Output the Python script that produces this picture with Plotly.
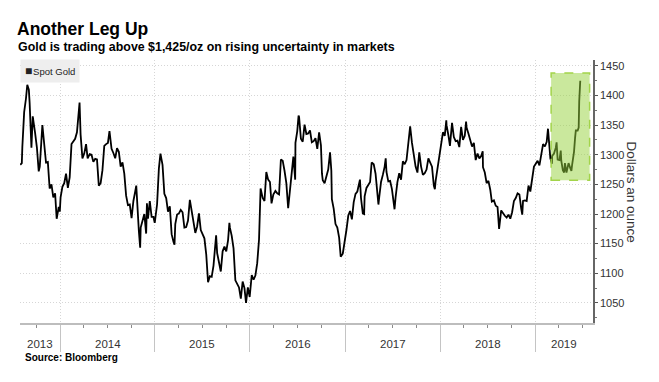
import plotly.graph_objects as go
import pandas as pd

# ---------------- text ----------------
title = "Another Leg Up"
subtitle = "Gold is trading above $1,425/oz on rising uncertainty in markets"
source = "Source: Bloomberg"
series_name = "Spot Gold"
y_title = "Dollars an ounce"
year_labels = ["2013", "2014", "2015", "2016", "2017", "2018", "2019"]
y_ticks = [1050, 1100, 1150, 1200, 1250, 1300, 1350, 1400, 1450]

# ---------------- data (spot gold, $/oz) ----------------
dates_2013 = ["2013-08-01", "2013-08-07", "2013-08-09", "2013-08-16", "2013-08-23", "2013-08-28",
              "2013-09-03", "2013-09-06", "2013-09-13", "2013-09-18", "2013-09-27", "2013-10-04",
              "2013-10-11", "2013-10-15", "2013-10-25", "2013-11-01", "2013-11-08", "2013-11-15",
              "2013-11-22", "2013-11-29", "2013-12-06", "2013-12-13", "2013-12-19", "2013-12-27",
              "2013-12-31"]
gold_2013 = [1283, 1286, 1313, 1372, 1395, 1418,
             1410, 1388, 1312, 1365, 1337, 1312,
             1272, 1280, 1350, 1314, 1287, 1288,
             1243, 1250, 1228, 1235, 1192, 1212,
             1204]

dates_2014 = ["2014-01-03", "2014-01-10", "2014-01-17", "2014-01-24", "2014-01-31", "2014-02-07",
              "2014-02-14", "2014-02-21", "2014-02-28", "2014-03-07", "2014-03-14", "2014-03-17",
              "2014-03-21", "2014-03-28", "2014-04-04", "2014-04-11", "2014-04-17", "2014-04-25",
              "2014-05-02", "2014-05-09", "2014-05-16", "2014-05-23", "2014-05-30", "2014-06-06",
              "2014-06-13", "2014-06-20", "2014-06-27", "2014-07-04", "2014-07-10", "2014-07-18",
              "2014-07-25", "2014-08-01", "2014-08-08", "2014-08-15", "2014-08-22", "2014-08-29",
              "2014-09-05", "2014-09-12", "2014-09-19", "2014-09-26", "2014-10-03", "2014-10-10",
              "2014-10-17", "2014-10-21", "2014-10-31", "2014-11-05", "2014-11-07", "2014-11-14",
              "2014-11-21", "2014-11-28", "2014-12-01", "2014-12-05", "2014-12-12", "2014-12-19",
              "2014-12-26", "2014-12-31"]
gold_2014 = [1228, 1246, 1252, 1268, 1244, 1262,
             1318, 1323, 1327, 1338, 1380, 1388,
             1334, 1294, 1302, 1318, 1294, 1301,
             1300, 1288, 1293, 1292, 1248, 1252,
             1274, 1315, 1318, 1320, 1340, 1310,
             1303, 1294, 1311, 1305, 1280, 1287,
             1268, 1231, 1215, 1216, 1193, 1222,
             1238, 1248, 1171, 1143, 1177, 1188,
             1200, 1167, 1218, 1192, 1222, 1195,
             1195, 1185]

dates_2015 = ["2015-01-09", "2015-01-16", "2015-01-22", "2015-01-30", "2015-02-06", "2015-02-13",
              "2015-02-20", "2015-02-27", "2015-03-06", "2015-03-13", "2015-03-17", "2015-03-20",
              "2015-03-27", "2015-04-03", "2015-04-10", "2015-04-17", "2015-04-24", "2015-05-01",
              "2015-05-08", "2015-05-15", "2015-05-22", "2015-05-29", "2015-06-05", "2015-06-12",
              "2015-06-19", "2015-06-26", "2015-07-02", "2015-07-10", "2015-07-17", "2015-07-20",
              "2015-07-24", "2015-07-31", "2015-08-07", "2015-08-14", "2015-08-21", "2015-08-24",
              "2015-08-28", "2015-09-04", "2015-09-11", "2015-09-18", "2015-09-25", "2015-10-02",
              "2015-10-09", "2015-10-14", "2015-10-16", "2015-10-23", "2015-10-30", "2015-11-06",
              "2015-11-13", "2015-11-20", "2015-11-27", "2015-12-04", "2015-12-11", "2015-12-17",
              "2015-12-24", "2015-12-31"]
gold_2015 = [1216, 1277, 1302, 1283, 1234, 1227,
             1204, 1213, 1166, 1153, 1148, 1183,
             1199, 1201, 1207, 1203, 1177, 1178,
             1189, 1224, 1205, 1190, 1168, 1179,
             1201, 1173, 1167, 1159, 1132, 1102,
             1085, 1095, 1094, 1113, 1160, 1164,
             1134, 1121, 1103, 1137, 1145, 1137,
             1156, 1185, 1177, 1163, 1142, 1088,
             1081, 1076, 1057, 1086, 1075, 1050,
             1076, 1060]

dates_2016 = ["2016-01-08", "2016-01-15", "2016-01-22", "2016-01-29", "2016-02-05", "2016-02-11",
              "2016-02-19", "2016-02-26", "2016-03-04", "2016-03-11", "2016-03-18", "2016-03-24",
              "2016-03-31", "2016-04-08", "2016-04-15", "2016-04-22", "2016-04-29", "2016-05-06",
              "2016-05-13", "2016-05-20", "2016-05-27", "2016-06-03", "2016-06-10", "2016-06-16",
              "2016-06-23", "2016-06-24", "2016-07-01", "2016-07-06", "2016-07-08", "2016-07-15",
              "2016-07-22", "2016-07-29", "2016-08-05", "2016-08-12", "2016-08-19", "2016-08-26",
              "2016-09-02", "2016-09-09", "2016-09-16", "2016-09-23", "2016-09-30", "2016-10-04",
              "2016-10-07", "2016-10-14", "2016-10-21", "2016-10-28", "2016-11-04", "2016-11-09",
              "2016-11-11", "2016-11-18", "2016-11-25", "2016-12-02", "2016-12-09", "2016-12-15",
              "2016-12-23", "2016-12-30"]
gold_2016 = [1097, 1089, 1096, 1117, 1157, 1243,
             1227, 1222, 1271, 1258, 1254, 1218,
             1233, 1239, 1235, 1233, 1292, 1290,
             1273, 1252, 1210, 1243, 1275, 1297,
             1258, 1320, 1340, 1366, 1364, 1327,
             1322, 1351, 1335, 1336, 1341, 1321,
             1323, 1328, 1310, 1338, 1316, 1268,
             1257, 1252, 1266, 1275, 1304, 1273,
             1225, 1209, 1183, 1177, 1160, 1128,
             1133, 1151]

dates_2017 = ["2017-01-06", "2017-01-13", "2017-01-20", "2017-01-27", "2017-02-03", "2017-02-10",
              "2017-02-17", "2017-02-27", "2017-03-03", "2017-03-10", "2017-03-15", "2017-03-17",
              "2017-03-24", "2017-03-31", "2017-04-07", "2017-04-13", "2017-04-21", "2017-04-28",
              "2017-05-05", "2017-05-09", "2017-05-12", "2017-05-19", "2017-05-26", "2017-06-02",
              "2017-06-06", "2017-06-09", "2017-06-16", "2017-06-23", "2017-06-30", "2017-07-07",
              "2017-07-10", "2017-07-14", "2017-07-21", "2017-07-28", "2017-08-04", "2017-08-11",
              "2017-08-18", "2017-08-25", "2017-09-01", "2017-09-08", "2017-09-15", "2017-09-22",
              "2017-09-29", "2017-10-06", "2017-10-13", "2017-10-20", "2017-10-27", "2017-11-03",
              "2017-11-10", "2017-11-17", "2017-11-24", "2017-12-01", "2017-12-08", "2017-12-12",
              "2017-12-15", "2017-12-22", "2017-12-29"]
gold_2017 = [1173, 1197, 1205, 1191, 1220, 1234,
             1238, 1258, 1227, 1201, 1200, 1230,
             1244, 1249, 1254, 1287, 1284, 1268,
             1228, 1216, 1228, 1254, 1266, 1280,
             1294, 1271, 1255, 1256, 1242, 1212,
             1208, 1228, 1254, 1269, 1258, 1289,
             1284, 1291, 1325, 1348, 1320, 1297,
             1280, 1270, 1304, 1280, 1266, 1269,
             1275, 1294, 1288, 1280, 1248, 1242,
             1256, 1276, 1303]

dates_2018 = ["2018-01-05", "2018-01-12", "2018-01-19", "2018-01-25", "2018-01-26", "2018-02-02",
              "2018-02-08", "2018-02-16", "2018-02-23", "2018-03-02", "2018-03-09", "2018-03-16",
              "2018-03-23", "2018-03-30", "2018-04-06", "2018-04-11", "2018-04-13", "2018-04-20",
              "2018-04-27", "2018-05-04", "2018-05-11", "2018-05-18", "2018-05-25", "2018-06-01",
              "2018-06-08", "2018-06-14", "2018-06-15", "2018-06-22", "2018-06-29", "2018-07-06",
              "2018-07-13", "2018-07-19", "2018-07-27", "2018-08-03", "2018-08-10", "2018-08-16",
              "2018-08-24", "2018-08-31", "2018-09-07", "2018-09-14", "2018-09-21", "2018-09-28",
              "2018-10-05", "2018-10-12", "2018-10-19", "2018-10-26", "2018-11-02", "2018-11-09",
              "2018-11-13", "2018-11-16", "2018-11-23", "2018-11-30", "2018-12-07", "2018-12-14",
              "2018-12-21", "2018-12-28"]
gold_2018 = [1320, 1338, 1332, 1358, 1350, 1333,
             1315, 1354, 1330, 1323, 1324, 1313,
             1347, 1325, 1332, 1356, 1346, 1336,
             1323, 1314, 1320, 1291, 1302, 1294,
             1298, 1306, 1279, 1270, 1252, 1256,
             1241, 1221, 1223, 1214, 1212, 1175,
             1206, 1201, 1197, 1194, 1199, 1192,
             1203, 1222, 1227, 1235, 1233, 1209,
             1199, 1222, 1223, 1222, 1248, 1238,
             1257, 1280]

dates_2019 = ["2019-01-04", "2019-01-11", "2019-01-18", "2019-01-25", "2019-02-01", "2019-02-08",
              "2019-02-15", "2019-02-20", "2019-02-22", "2019-03-01", "2019-03-07", "2019-03-08",
              "2019-03-15", "2019-03-22", "2019-03-25", "2019-03-29", "2019-04-05", "2019-04-10",
              "2019-04-12", "2019-04-18", "2019-04-23", "2019-04-26", "2019-05-02", "2019-05-10",
              "2019-05-17", "2019-05-21", "2019-05-24", "2019-05-31", "2019-06-04", "2019-06-07",
              "2019-06-14", "2019-06-18", "2019-06-20", "2019-06-21", "2019-06-24"]
gold_2019 = [1285, 1290, 1282, 1303, 1318, 1314,
             1322, 1344, 1328, 1294, 1285, 1298,
             1302, 1312, 1321, 1292, 1291, 1307,
             1290, 1274, 1270, 1286, 1270, 1286,
             1277, 1273, 1284, 1305, 1328, 1341,
             1341, 1346, 1390, 1400, 1425]

# highlighted period (annotation box)
highlight_start, highlight_end = "2019-03-04", "2019-07-30"
highlight_low, highlight_high = 1257, 1438

x_range = ["2013-07-31", "2019-08-12"]
y_range = [1016, 1460]

dates = pd.to_datetime(dates_2013 + dates_2014 + dates_2015 + dates_2016 +
                       dates_2017 + dates_2018 + dates_2019)
gold = gold_2013 + gold_2014 + gold_2015 + gold_2016 + gold_2017 + gold_2018 + gold_2019

FONT = "Liberation Sans, Arial, sans-serif"
GRID = "#d6d6d6"

fig = go.Figure()
fig.add_trace(go.Scatter(x=dates, y=gold, mode="lines", name=series_name,
                         line=dict(color="#000000", width=1.8), showlegend=False))

# the page body has an 8px default margin, so the figure is 8px smaller
fig.update_layout(
    width=651, height=374,
    margin=dict(l=12, r=66, t=52, b=59),
    paper_bgcolor="white", plot_bgcolor="white",
    font=dict(family=FONT, size=11, color="#333333"),
    showlegend=False,
)

fig.update_xaxes(
    type="date", range=x_range,
    showgrid=True, gridcolor=GRID, griddash="1px,2px", gridwidth=1,
    dtick="M12", tick0="2014-01-01",
    ticks="outside", ticklen=27, tickcolor="#c4c4c4", tickwidth=1,
    showticklabels=False,
    showline=True, linecolor="#bdbdbd", linewidth=2,
    minor=dict(dtick="M3", tick0="2014-01-01", ticks="outside", ticklen=3,
               tickcolor="#8a8a8a", showgrid=False),
    zeroline=False,
)

fig.update_yaxes(
    side="right", range=y_range,
    tickvals=y_ticks, ticktext=[str(v) for v in y_ticks],
    showgrid=True, gridcolor=GRID, griddash="1px,2px", gridwidth=1,
    ticks="outside", ticklen=3, tickcolor="#555555",
    showline=True, linecolor="#666666", linewidth=1.5,
    minor=dict(dtick=25, tick0=1000, ticks="outside", ticklen=2, tickcolor="#777777", showgrid=False),
    tickfont=dict(size=11, color="#333333", family=FONT),
    zeroline=False,
)

# highlight box drawn above the line
fig.add_shape(type="rect", xref="x", yref="y",
              x0=highlight_start, x1=highlight_end, y0=highlight_low, y1=highlight_high,
              fillcolor="rgba(150,210,60,0.5)",
              line=dict(color="#a3d44a", width=1.5, dash="dash"),
              layer="above")

# year labels centred in the visible part of each year
x0 = pd.Timestamp(x_range[0])
x1 = pd.Timestamp(x_range[1])
for lab in year_labels:
    a = max(pd.Timestamp(f"{lab}-01-01"), x0)
    b = min(pd.Timestamp(f"{int(lab) + 1}-01-01"), x1)
    mid = a + (b - a) / 2
    fig.add_annotation(x=mid, xref="x", y=-0.08, yref="paper", text=lab,
                       showarrow=False, xanchor="center", yanchor="middle",
                       font=dict(size=11.5, color="#333333", family=FONT))

# titles
fig.add_annotation(x=-0.008, y=1.119, xref="paper", yref="paper", xanchor="left", yanchor="middle",
                   text=f"<b>{title}</b>", showarrow=False,
                   font=dict(size=17.5, color="#000000", family=FONT))
fig.add_annotation(x=-0.007, y=1.0487, xref="paper", yref="paper", xanchor="left", yanchor="middle",
                   text=f"<b>{subtitle}</b>", showarrow=False,
                   font=dict(size=12.4, color="#000000", family=FONT))
fig.add_annotation(x=0.005, y=-0.133, xref="paper", yref="paper", xanchor="left", yanchor="middle",
                   text=f"<b>{source}</b>", showarrow=False,
                   font=dict(size=10, color="#000000", family=FONT))

# y-axis title (reads top to bottom)
fig.add_annotation(x=1.0665, y=0.5, xref="paper", yref="paper", xanchor="center", yanchor="middle",
                   text=y_title, textangle=90, showarrow=False,
                   font=dict(size=13.5, color="#333333", family=FONT))

# legend box
fig.add_annotation(x=0, y=1.004, xref="paper", yref="paper", xanchor="left", yanchor="top",
                   text="<span style='font-size:12px'>■</span><span style='font-size:3px'> </span>" + series_name,
                   showarrow=False,
                   bgcolor="#eeeeee", borderpad=4,
                   font=dict(size=9.5, color="#222222", family=FONT))

fig.write_html("out.html")
